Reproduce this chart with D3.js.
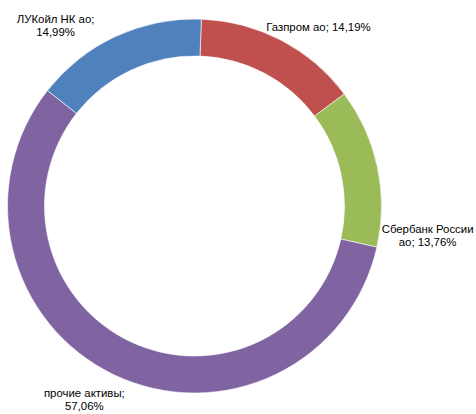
<!DOCTYPE html>
<html>
<head>
<meta charset="utf-8">
<script src="https://cdn.jsdelivr.net/npm/d3@7"></script>
<style>
  body { margin: 0; background: #fff; }
  text { font-family: "Liberation Sans", Arial, sans-serif; font-size: 11.4px; fill: #000; }
</style>
</head>
<body>
<div id="chart"></div>
<script>
// Donut chart of portfolio structure

// Data
var names = ["Газпром ао", "Сбербанк России ао", "прочие активы", "ЛУКойл НК ао"];
var shares = [14.19, 13.76, 57.06, 14.99];
var labelLines = [
    ["Газпром ао; 14,19%"],
    ["Сбербанк России", "ао; 13,76%"],
    ["прочие активы;", "57,06%"],
    ["ЛУКойл НК ао;", "14,99%"]
];
var colors = ["#C0504D", "#9BBB59", "#8064A2", "#4F81BD"];

// Sizes
var svgWidth = 476;
var svgHeight = 414;
var cx = 194.5, cy = 206;
var outerR = 187, innerR = 150;
var startDeg = 2.1;

// label placement: polar angle (deg, clockwise from top) and distance from centre
var labelPlace = [
    {a: 34.7, r: 217.7},
    {a: 97.3, r: 235},
    {a: 209.6, r: 223},
    {a: 322.4, r: 227.7}
];
var lineHeight = 13;

var svg = d3.select("#chart").append("svg")
    .attr("width", svgWidth)
    .attr("height", svgHeight);

var chartGroup = svg.append("g")
    .attr("transform", `translate(${cx}, ${cy})`);

var rad = Math.PI / 180;
var pie = d3.pie()
    .sort(null)
    .value(d => d)
    .startAngle(startDeg * rad)
    .endAngle((startDeg + 360) * rad);

var arc = d3.arc()
    .innerRadius(innerR)
    .outerRadius(outerR);

var slices = pie(shares);

chartGroup.selectAll("path")
    .data(slices)
    .enter()
    .append("path")
    .attr("d", arc)
    .attr("fill", (d, i) => colors[i])
    .attr("stroke", "#fff")
    .attr("stroke-width", 0.6);

// Labels
var labels = chartGroup.selectAll("text.label")
    .data(slices)
    .enter()
    .append("text")
    .attr("class", "label")
    .attr("text-anchor", "middle")
    .attr("transform", function(d, i) {
        var p = labelPlace[i];
        var x = p.r * Math.sin(p.a * rad);
        var y = -p.r * Math.cos(p.a * rad);
        return `translate(${x}, ${y})`;
    });

labels.each(function(d, i) {
    var lines = labelLines[i];
    var top = -(lines.length - 1) * lineHeight / 2;
    var t = d3.select(this);
    lines.forEach(function(line, j) {
        t.append("tspan")
            .attr("x", 0)
            .attr("y", top + j * lineHeight + 4)
            .text(line);
    });
});
</script>
</body>
</html>
